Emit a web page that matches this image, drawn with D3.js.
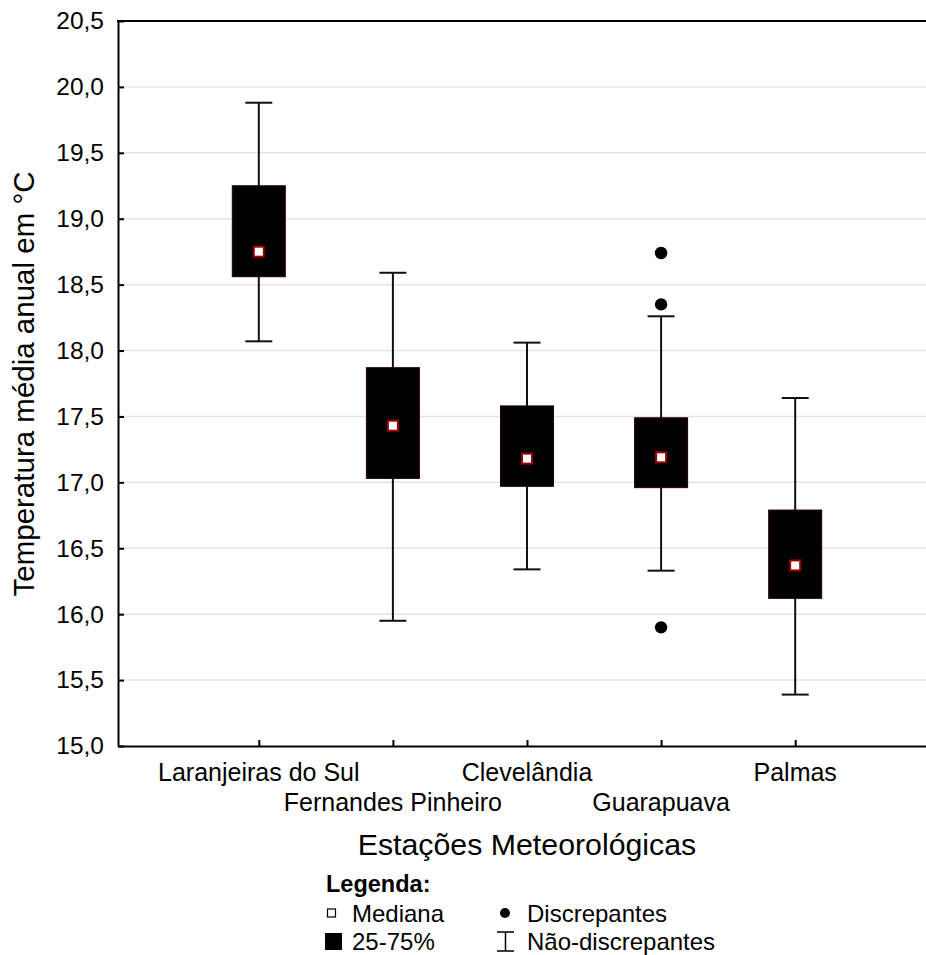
<!DOCTYPE html>
<html>
<head>
<meta charset="utf-8">
<script src="https://cdn.jsdelivr.net/npm/d3@7"></script>
<style>
  html, body { margin: 0; padding: 0; background: #fff; }
  svg { display: block; }
  text { font-family: "Liberation Sans", Arial, sans-serif; fill: #000; }
</style>
</head>
<body>
<svg id="chart" width="926" height="955"></svg>
<script>
// Annual mean temperature per weather station (°C)
const stations = ["Laranjeiras do Sul", "Fernandes Pinheiro", "Clevelândia", "Guarapuava", "Palmas"];
const whiskerLow  = [18.07, 15.95, 16.34, 16.33, 15.39];
const q1          = [18.56, 17.03, 16.97, 16.96, 16.12];
const median      = [18.75, 17.43, 17.18, 17.19, 16.37];
const q3          = [19.25, 17.87, 17.58, 17.49, 16.79];
const whiskerHigh = [19.88, 18.59, 18.06, 18.26, 17.64];
const outliers    = [[], [], [], [18.74, 18.35, 15.90], []];
const yTicks      = [15.0, 15.5, 16.0, 16.5, 17.0, 17.5, 18.0, 18.5, 19.0, 19.5, 20.0, 20.5];

const svg = d3.select("#chart");
const plotLeft = 118, plotTop = 21, plotRight = 936, plotBottom = 746;

const y = d3.scaleLinear().domain([15, 20.5]).range([plotBottom, plotTop]);
const x = d3.scalePoint().domain(stations).range([plotLeft, plotRight]).padding(1.05);
const fmt = v => d3.format(".1f")(v).replace(".", ",");

// Horizontal grid
svg.append("g").selectAll("line").data(yTicks.slice(1, -1)).join("line")
  .attr("x1", plotLeft).attr("x2", plotRight)
  .attr("y1", d => y(d)).attr("y2", d => y(d))
  .attr("stroke", "#e4e4e4").attr("stroke-width", 1.5);

// Y axis with inward ticks
const yAxis = svg.append("g").attr("transform", `translate(${plotLeft},0)`)
  .call(d3.axisLeft(y).tickValues(yTicks).tickFormat(fmt).tickSizeInner(-6).tickSizeOuter(0).tickPadding(14));
yAxis.select(".domain").attr("stroke", "#000").attr("stroke-width", 2);
yAxis.selectAll(".tick line").attr("stroke", "#000").attr("stroke-width", 2);
yAxis.selectAll(".tick text").attr("font-size", 24.5).attr("font-family", "Liberation Sans, Arial, sans-serif");

// X axis with inward ticks
const xAxis = svg.append("g").attr("transform", `translate(0,${plotBottom})`)
  .call(d3.axisBottom(x).tickSizeInner(-6).tickSizeOuter(0).tickFormat(""));
xAxis.select(".domain").attr("stroke", "#000").attr("stroke-width", 2);
xAxis.selectAll(".tick line").attr("stroke", "#000").attr("stroke-width", 2);

// Top frame line
svg.append("line").attr("x1", plotLeft - 1).attr("x2", plotRight).attr("y1", plotTop).attr("y2", plotTop)
  .attr("stroke", "#000").attr("stroke-width", 2);

// Station labels, staggered in two rows
svg.append("g").selectAll("text").data(stations).join("text")
  .attr("x", d => x(d))
  .attr("y", (d, i) => i % 2 === 0 ? 781 : 811)
  .attr("text-anchor", "middle").attr("font-size", 25)
  .text(d => d);

// Axis titles
svg.append("text").attr("x", 527).attr("y", 855).attr("text-anchor", "middle")
  .attr("font-size", 30.3).text("Estações Meteorológicas");
svg.append("text").attr("transform", "translate(34,384) rotate(-90)").attr("text-anchor", "middle")
  .attr("font-size", 29.5).text("Temperatura média anual em °C");

// Boxes
const boxW = 53, capW = 27;
const g = svg.append("g");
stations.forEach((s, i) => {
  const cx = x(s);
  g.append("line").attr("x1", cx).attr("x2", cx).attr("y1", y(whiskerLow[i])).attr("y2", y(whiskerHigh[i]))
    .attr("stroke", "#111").attr("stroke-width", 2);
  [whiskerLow[i], whiskerHigh[i]].forEach(v => {
    g.append("line").attr("x1", cx - capW / 2).attr("x2", cx + capW / 2).attr("y1", y(v)).attr("y2", y(v))
      .attr("stroke", "#111").attr("stroke-width", 2);
  });
  g.append("rect").attr("x", cx - boxW / 2).attr("width", boxW)
    .attr("y", y(q3[i])).attr("height", y(q1[i]) - y(q3[i]))
    .attr("fill", "#000").attr("stroke", "#2a0000").attr("stroke-width", 1);
  g.append("rect").attr("x", cx - 5).attr("y", y(median[i]) - 5).attr("width", 10).attr("height", 10)
    .attr("fill", "#fff").attr("stroke", "#9b0000").attr("stroke-width", 2);
  outliers[i].forEach(v => {
    g.append("circle").attr("cx", cx).attr("cy", y(v)).attr("r", 6.2).attr("fill", "#000");
  });
});

// Legend
const lg = svg.append("g");
lg.append("text").attr("x", 326).attr("y", 892).attr("font-size", 23.5).attr("font-weight", "bold").text("Legenda:");
lg.append("rect").attr("x", 327.5).attr("y", 909).attr("width", 8).attr("height", 8)
  .attr("fill", "#fff").attr("stroke", "#000").attr("stroke-width", 1.2);
lg.append("text").attr("x", 352).attr("y", 922).attr("font-size", 24).text("Mediana");
lg.append("rect").attr("x", 325).attr("y", 933).attr("width", 17).attr("height", 17).attr("fill", "#000");
lg.append("text").attr("x", 352).attr("y", 950).attr("font-size", 24).text("25-75%");
lg.append("circle").attr("cx", 505).attr("cy", 913).attr("r", 5).attr("fill", "#000");
lg.append("text").attr("x", 527).attr("y", 922).attr("font-size", 24).text("Discrepantes");
lg.append("path").attr("d", "M497,932H514M505.5,932V951M497,951H514")
  .attr("stroke", "#000").attr("stroke-width", 1.5).attr("fill", "none");
lg.append("text").attr("x", 527).attr("y", 950).attr("font-size", 24).text("Não-discrepantes");
</script>
</body>
</html>
